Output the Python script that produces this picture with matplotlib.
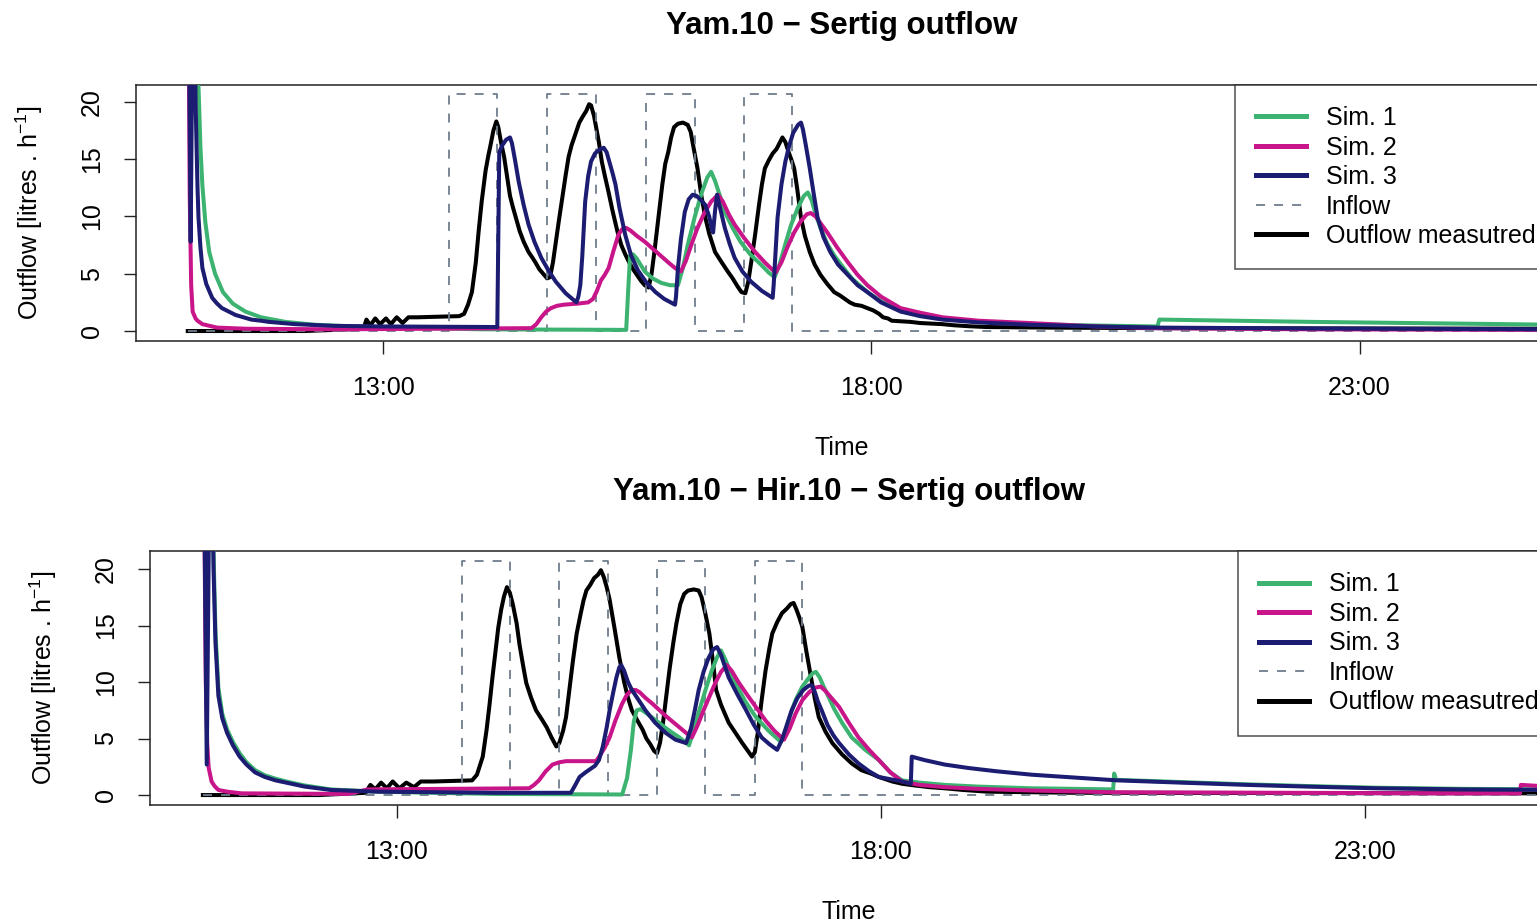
import numpy as np
import matplotlib.pyplot as plt

plt.rcParams['font.family'] = ['Liberation Sans', 'DejaVu Sans']
plt.rcParams['mathtext.default'] = 'regular'

# ---- data (time in decimal hours, outflow in litres/h) ----
titles = ["Yam.10 \u2212 Sertig outflow", "Yam.10 \u2212 Hir.10 \u2212 Sertig outflow"]
series_labels = ["Sim. 1", "Sim. 2", "Sim. 3", "Inflow", "Outflow measutred"]
series_colors = ["#3cb371", "#c8158a", "#1c1c72", "#6f7d8c", "#000000"]
tick_hours = [13, 18, 23]
tick_labels = ["13:00", "18:00", "23:00"]

# inflow pulses (same for both experiments)
pulse_start = [13.68, 14.68, 15.69, 16.70]
pulse_end = [14.17, 15.18, 16.19, 17.19]
pulse_height = 20.7

# panel 1 : Yam.10 - Sertig
meas1_t = [11.00, 12.20, 12.80, 12.83, 12.87, 12.92, 12.97, 13.03, 13.08, 13.14, 13.20, 13.26, 13.35, 13.78,
           13.83, 13.87, 13.91, 13.95, 13.98, 14.01, 14.05, 14.08, 14.10, 14.13, 14.16, 14.18, 14.21, 14.24,
           14.27, 14.30, 14.33, 14.36, 14.40, 14.44, 14.49, 14.53, 14.56, 14.60, 14.64, 14.68, 14.71, 14.74,
           14.77, 14.80, 14.83, 14.87, 14.90, 14.93, 14.97, 15.01, 15.05, 15.08, 15.11, 15.13, 15.16, 15.18,
           15.21, 15.24, 15.27, 15.31, 15.35, 15.40, 15.44, 15.48, 15.52, 15.56, 15.60, 15.64, 15.68, 15.72,
           15.75, 15.78, 15.82, 15.86, 15.89, 15.92, 15.95, 15.98, 16.02, 16.07, 16.12, 16.15, 16.18, 16.22,
           16.26, 16.30, 16.34, 16.40, 16.46, 16.53, 16.58, 16.63, 16.67, 16.71, 16.74, 16.77, 16.81, 16.85,
           16.88, 16.91, 16.95, 16.99, 17.03, 17.06, 17.09, 17.12, 17.15, 17.18, 17.21, 17.24, 17.28, 17.32,
           17.37, 17.42, 17.48, 17.55, 17.62, 17.68, 17.73, 17.78, 17.83, 17.90, 17.96, 18.02, 18.08, 18.12,
           18.17, 18.21, 18.30, 18.40, 18.50, 18.62, 18.73, 18.85, 19.00, 19.18, 19.50, 19.80, 21.00, 25.00]
meas1_v = [0.0, 0.0, 0.2, 1.0, 0.5, 1.1, 0.6, 1.1, 0.6, 1.2, 0.7, 1.2, 1.2, 1.3,
           1.5, 2.3, 3.4, 6.0, 8.8, 11.3, 14.0, 15.4, 16.2, 17.5, 18.3, 17.8, 16.4, 15.2,
           13.5, 11.8, 10.8, 9.9, 8.7, 7.8, 6.9, 6.4, 6.0, 5.4, 5.0, 4.6, 4.7, 6.0,
           7.8, 9.6, 11.3, 13.6, 15.2, 16.2, 17.2, 18.2, 18.8, 19.2, 19.8, 19.7, 18.8, 17.9,
           16.5, 14.8, 13.6, 12.1, 10.5, 8.7, 7.5, 6.7, 6.0, 5.4, 4.9, 4.4, 4.0, 3.8,
           5.0, 7.0, 9.9, 12.8, 14.6, 15.6, 16.9, 17.8, 18.1, 18.2, 18.0, 17.4, 16.0, 14.2,
           11.8, 9.9, 8.5, 6.9, 6.1, 5.2, 4.6, 3.9, 3.4, 3.3, 4.3, 6.0, 8.4, 11.0,
           12.8, 14.2, 14.9, 15.5, 15.9, 16.4, 16.9, 16.5, 15.7, 15.0, 14.2, 12.5, 9.9, 8.3,
           6.9, 5.8, 4.9, 4.1, 3.4, 3.1, 2.8, 2.5, 2.3, 2.2, 2.0, 1.8, 1.5, 1.2,
           1.1, 0.9, 0.85, 0.8, 0.7, 0.65, 0.6, 0.5, 0.42, 0.35, 0.32, 0.3, 0.25, 0.2]

sim1a_t = [11.00, 11.10, 11.13, 11.15, 11.18, 11.22, 11.28, 11.36, 11.46, 11.59, 11.75, 12.00, 12.30, 12.70,
           13.20, 14.00, 15.49, 15.51, 15.53, 15.56, 15.60, 15.68, 15.76, 15.85, 15.94, 16.02, 16.07, 16.12,
           16.19, 16.26, 16.32, 16.36, 16.40, 16.45, 16.50, 16.58, 16.66, 16.76, 16.87, 16.95, 17.01, 17.06,
           17.12, 17.18, 17.25, 17.31, 17.35, 17.39, 17.43, 17.48, 17.55, 17.62, 17.69, 17.80, 17.96, 18.10,
           18.30, 18.50, 18.73, 19.10, 19.62, 20.30, 20.93, 20.95, 22.50, 25.00]
sim1a_v = [40.0, 24.0, 16.0, 12.7, 9.5, 6.9, 5.0, 3.4, 2.4, 1.7, 1.2, 0.8, 0.55, 0.4,
           0.3, 0.15, 0.1, 3.5, 6.6, 6.7, 6.3, 5.2, 4.6, 4.2, 4.0, 4.0, 5.5, 7.5,
           9.9, 12.0, 13.4, 13.9, 13.1, 11.8, 10.4, 9.0, 7.8, 6.7, 5.8, 5.1, 4.7, 5.8,
           7.6, 9.3, 10.8, 11.8, 12.1, 11.4, 10.2, 9.0, 7.6, 6.6, 5.8, 4.6, 3.4, 2.6,
           1.85, 1.45, 1.1, 0.8, 0.6, 0.48, 0.4, 1.0, 0.8, 0.55]

sim2a_t = [11.00, 11.02, 11.035, 11.05, 11.08, 11.10, 11.15, 11.30, 11.60, 12.50, 14.52, 14.57, 14.62, 14.67,
           14.72, 14.78, 14.85, 15.00, 15.10, 15.15, 15.19, 15.23, 15.27, 15.31, 15.36, 15.41, 15.45, 15.49,
           15.53, 15.60, 15.68, 15.80, 15.92, 15.99, 16.05, 16.10, 16.16, 16.22, 16.29, 16.36, 16.43, 16.48,
           16.54, 16.60, 16.70, 16.81, 16.92, 17.02, 17.08, 17.14, 17.21, 17.28, 17.34, 17.38, 17.43, 17.49,
           17.55, 17.65, 17.76, 17.86, 17.96, 18.10, 18.30, 18.50, 18.73, 19.10, 19.62, 20.30, 20.94, 22.50,
           25.00]
sim2a_v = [40.0, 12.0, 4.0, 1.7, 1.1, 0.9, 0.6, 0.3, 0.2, 0.15, 0.25, 0.6, 1.2, 1.7,
           2.0, 2.2, 2.3, 2.4, 2.5, 2.8, 3.5, 4.4, 4.9, 5.5, 7.0, 8.4, 8.9, 9.0,
           8.8, 8.3, 7.8, 6.9, 6.0, 5.5, 5.2, 6.1, 7.6, 9.0, 10.3, 11.3, 11.9, 11.3,
           10.2, 9.3, 8.1, 6.9, 5.9, 5.1, 6.0, 7.3, 8.6, 9.6, 10.2, 10.3, 10.0, 9.3,
           8.6, 7.3, 6.0, 4.9, 4.0, 3.0, 2.0, 1.6, 1.2, 0.9, 0.7, 0.4, 0.25, 0.15,
           0.1]

sim3a_t = [11.00, 11.03, 11.06, 11.08, 11.10, 11.11, 11.13, 11.15, 11.19, 11.25, 11.30, 11.35, 11.42, 11.49,
           11.57, 11.65, 11.75, 11.83, 12.10, 12.50, 13.00, 14.17, 14.19, 14.22, 14.26, 14.30, 14.32, 14.35,
           14.39, 14.44, 14.49, 14.55, 14.62, 14.70, 14.77, 14.87, 14.98, 15.00, 15.02, 15.04, 15.07, 15.10,
           15.13, 15.17, 15.21, 15.26, 15.29, 15.32, 15.35, 15.38, 15.42, 15.48, 15.54, 15.61, 15.70, 15.79,
           15.88, 15.99, 16.00, 16.02, 16.05, 16.09, 16.13, 16.17, 16.21, 16.26, 16.30, 16.34, 16.37, 16.38,
           16.40, 16.42, 16.45, 16.50, 16.55, 16.60, 16.68, 16.77, 16.88, 16.99, 17.00, 17.04, 17.08, 17.12,
           17.16, 17.20, 17.25, 17.28, 17.30, 17.33, 17.37, 17.41, 17.45, 17.51, 17.58, 17.66, 17.76, 17.86,
           17.96, 18.10, 18.30, 18.50, 18.73, 19.10, 19.62, 20.30, 20.94, 22.50, 25.00]
sim3a_v = [40.0, 7.8, 40.0, 20.0, 12.5, 9.9, 7.3, 5.5, 4.1, 2.9, 2.4, 2.0, 1.7, 1.4,
           1.2, 1.0, 0.9, 0.8, 0.6, 0.45, 0.4, 0.35, 15.6, 16.2, 16.7, 16.9, 16.4, 15.0,
           13.0, 11.0, 9.3, 7.8, 6.4, 5.2, 4.3, 3.3, 2.5, 3.0, 4.0, 6.5, 11.3, 13.5,
           14.8, 15.5, 15.8, 16.0, 15.6, 14.7, 13.8, 12.8, 10.8, 8.4, 6.6, 5.3, 4.2, 3.4,
           2.8, 2.3, 3.0, 5.5, 8.0, 10.4, 11.5, 11.9, 11.8, 11.4, 11.0, 10.0, 8.8, 8.6,
           10.5, 11.9, 10.8, 9.0, 7.6, 6.4, 5.2, 4.3, 3.5, 2.9, 4.0, 9.9, 12.8, 14.8,
           16.2, 17.3, 18.0, 18.2, 17.6, 16.2, 14.2, 12.0, 9.9, 8.2, 6.9, 5.8, 4.9, 4.0,
           3.4, 2.5, 1.7, 1.3, 1.0, 0.75, 0.55, 0.4, 0.3, 0.22, 0.15]

# panel 2 : Yam.10 - Hir.10 - Sertig
meas2_t = [11.00, 12.20, 12.68, 12.73, 12.78, 12.84, 12.90, 12.96, 13.03, 13.10, 13.18, 13.25, 13.38, 13.78,
           13.83, 13.89, 13.93, 13.96, 13.99, 14.02, 14.05, 14.08, 14.11, 14.14, 14.17, 14.20, 14.24, 14.27,
           14.31, 14.34, 14.39, 14.44, 14.50, 14.55, 14.60, 14.65, 14.68, 14.72, 14.75, 14.78, 14.82, 14.86,
           14.90, 14.93, 14.96, 15.00, 15.04, 15.08, 15.11, 15.14, 15.17, 15.20, 15.25, 15.30, 15.35, 15.39,
           15.43, 15.48, 15.54, 15.58, 15.62, 15.66, 15.69, 15.72, 15.75, 15.78, 15.82, 15.86, 15.89, 15.93,
           15.97, 16.01, 16.07, 16.12, 16.15, 16.19, 16.23, 16.27, 16.30, 16.35, 16.43, 16.50, 16.57, 16.62,
           16.67, 16.70, 16.73, 16.77, 16.81, 16.85, 16.88, 16.93, 16.98, 17.03, 17.07, 17.10, 17.13, 17.16,
           17.19, 17.23, 17.28, 17.32, 17.36, 17.43, 17.50, 17.60, 17.70, 17.80, 17.90, 17.98, 18.05, 18.12,
           18.22, 18.35, 18.50, 18.66, 18.85, 19.10, 20.00, 25.00]
meas2_v = [0.0, 0.0, 0.2, 0.9, 0.5, 1.1, 0.6, 1.2, 0.6, 1.1, 0.7, 1.2, 1.2, 1.3,
           1.8, 3.4, 5.8, 8.0, 10.4, 12.6, 14.8, 16.4, 17.6, 18.4, 17.9, 16.9, 15.2, 13.3,
           11.3, 9.9, 8.6, 7.5, 6.7, 6.0, 5.1, 4.3, 4.6, 5.7, 6.9, 9.0, 11.8, 14.3,
           16.0, 17.2, 18.1, 18.6, 19.2, 19.5, 19.9, 19.3, 18.4, 17.3, 14.8, 12.2, 10.0, 8.6,
           7.5, 6.7, 5.8, 5.0, 4.5, 3.9, 3.7, 4.6, 6.3, 8.4, 11.2, 13.6, 15.2, 16.9,
           17.8, 18.1, 18.2, 18.1, 17.5, 16.0, 14.3, 11.6, 9.3, 8.0, 6.4, 5.5, 4.6, 4.0,
           3.4, 3.8, 5.5, 8.4, 11.0, 13.0, 14.3, 15.3, 16.1, 16.5, 16.9, 17.0, 16.4, 15.7,
           14.9, 12.8, 10.4, 8.5, 6.9, 5.6, 4.6, 3.6, 2.8, 2.2, 1.9, 1.6, 1.4, 1.2,
           1.0, 0.85, 0.7, 0.6, 0.45, 0.3, 0.2, 0.15]

sim1b_t = [11.00, 11.10, 11.13, 11.16, 11.20, 11.25, 11.31, 11.38, 11.45, 11.54, 11.64, 11.75, 11.86, 12.05,
           12.32, 12.80, 14.00, 15.33, 15.38, 15.42, 15.45, 15.48, 15.52, 15.57, 15.68, 15.80, 15.92, 16.02,
           16.07, 16.13, 16.19, 16.25, 16.31, 16.35, 16.40, 16.45, 16.50, 16.60, 16.71, 16.84, 16.97, 17.02,
           17.07, 17.12, 17.19, 17.26, 17.30, 17.33, 17.37, 17.41, 17.46, 17.52, 17.60, 17.70, 17.84, 17.98,
           18.10, 18.22, 18.40, 18.66, 19.00, 19.56, 20.00, 20.40, 20.41, 20.43, 21.10, 21.78, 22.40, 23.11,
           24.00, 25.00]
sim1b_v = [40.0, 25.0, 14.5, 9.5, 7.2, 5.8, 4.7, 3.7, 2.9, 2.2, 1.75, 1.45, 1.2, 0.85,
           0.5, 0.3, 0.1, 0.05, 1.5, 4.0, 6.5, 7.5, 7.6, 7.3, 6.6, 5.8, 5.1, 4.4,
           5.8, 7.6, 9.3, 10.9, 12.2, 12.8, 11.9, 10.8, 9.9, 8.3, 6.9, 5.7, 4.7, 5.8,
           7.2, 8.4, 9.6, 10.4, 10.8, 10.9, 10.4, 9.6, 8.7, 7.6, 6.4, 5.1, 4.0, 3.1,
           2.0, 1.3, 1.1, 0.9, 0.75, 0.6, 0.55, 0.5, 1.9, 1.35, 1.15, 0.95, 0.8, 0.65,
           0.55, 0.5]

sim2b_t = [11.00, 11.03, 11.045, 11.06, 11.09, 11.12, 11.16, 11.25, 11.40, 12.50, 12.70, 14.37, 14.42, 14.47,
           14.54, 14.61, 14.68, 14.75, 15.06, 15.10, 15.15, 15.20, 15.26, 15.33, 15.38, 15.43, 15.47, 15.51,
           15.57, 15.64, 15.78, 15.92, 15.99, 16.05, 16.11, 16.17, 16.23, 16.29, 16.35, 16.41, 16.46, 16.53,
           16.61, 16.71, 16.81, 16.90, 17.00, 17.06, 17.12, 17.19, 17.26, 17.32, 17.38, 17.43, 17.50, 17.57,
           17.67, 17.77, 17.88, 17.98, 18.10, 18.22, 18.40, 18.66, 19.00, 19.56, 20.40, 23.90, 24.60, 24.61,
           25.00]
sim2b_v = [40.0, 10.0, 4.5, 2.4, 1.2, 0.8, 0.45, 0.3, 0.15, 0.1, 0.5, 0.6, 0.9, 1.3,
           2.1, 2.7, 2.9, 3.0, 3.0, 3.5, 4.2, 5.1, 6.6, 8.1, 8.9, 9.3, 9.3, 9.1,
           8.6, 8.1, 7.0, 6.0, 5.5, 5.1, 6.2, 7.5, 8.7, 9.9, 10.9, 11.5, 11.0, 10.0,
           9.0, 7.8, 6.6, 5.7, 4.9, 5.9, 7.2, 8.4, 9.1, 9.5, 9.6, 9.2, 8.5, 7.8,
           6.4, 5.1, 4.0, 3.1, 2.0, 1.2, 0.9, 0.7, 0.55, 0.4, 0.25, 0.15, 0.15, 0.9,
           0.7]

sim3b_t = [11.00, 11.04, 11.08, 11.11, 11.13, 11.16, 11.20, 11.25, 11.31, 11.38, 11.45, 11.54, 11.64, 11.75,
           11.86, 12.05, 12.32, 12.80, 14.00, 14.80, 14.84, 14.89, 14.95, 15.00, 15.05, 15.09, 15.13, 15.17,
           15.20, 15.24, 15.27, 15.30, 15.32, 15.35, 15.39, 15.43, 15.50, 15.57, 15.67, 15.78, 15.88, 15.99,
           16.04, 16.08, 16.12, 16.17, 16.22, 16.27, 16.31, 16.35, 16.39, 16.43, 16.52, 16.61, 16.69, 16.77,
           16.85, 16.93, 16.98, 17.03, 17.08, 17.14, 17.20, 17.26, 17.29, 17.32, 17.35, 17.39, 17.45, 17.51,
           17.57, 17.67, 17.77, 17.88, 17.98, 18.10, 18.22, 18.31, 18.32, 18.45, 18.66, 18.90, 19.20, 19.56,
           20.00, 20.44, 21.10, 21.78, 22.40, 23.11, 24.00, 25.00]
sim3b_v = [40.0, 2.7, 40.0, 20.0, 13.5, 8.8, 6.8, 5.5, 4.4, 3.4, 2.7, 2.0, 1.6, 1.3,
           1.1, 0.75, 0.45, 0.3, 0.2, 0.2, 0.8, 1.6, 2.0, 2.3, 2.6, 3.1, 4.3, 6.0,
           7.5, 9.2, 10.4, 11.3, 11.5, 11.0, 10.0, 9.3, 8.4, 7.5, 6.4, 5.5, 4.9, 4.6,
           5.9, 7.5, 9.3, 10.9, 12.1, 12.9, 13.1, 12.4, 11.4, 10.4, 8.9, 7.5, 6.2, 5.1,
           4.5, 4.0, 4.9, 6.2, 7.5, 8.6, 9.3, 9.7, 9.7, 9.1, 8.3, 7.5, 6.2, 5.3,
           4.6, 3.6, 2.8, 2.1, 1.6, 1.4, 1.2, 1.0, 3.4, 3.1, 2.7, 2.4, 2.1, 1.8,
           1.55, 1.3, 1.1, 0.9, 0.75, 0.6, 0.5, 0.45]


def inflow_steps(t0, t1):
    t = [t0]
    v = [0.0]
    for s, e in zip(pulse_start, pulse_end):
        t += [s, s, e, e]
        v += [0.0, pulse_height, pulse_height, 0.0]
    t.append(t1)
    v.append(0.0)
    return t, v


def draw_panel(ax, title, sims, meas, xlim, ylim):
    ax.plot(meas[0], meas[1], color=series_colors[4], lw=2.9, zorder=2)
    it, iv = inflow_steps(11.0, 25.0)
    ax.plot(it, iv, color=series_colors[3], lw=1.3, ls=(0, (5, 5)), zorder=3)
    for k, (st, sv) in enumerate(sims):
        ax.plot(st, sv, color=series_colors[k], lw=2.9, zorder=4 + k)

    ax.set_xlim(*xlim)
    ax.set_ylim(*ylim)
    ax.set_xticks(tick_hours)
    ax.set_xticklabels(tick_labels)
    ax.set_yticks([0, 5, 10, 15, 20])
    ax.tick_params(axis='both', direction='out', length=9, width=1.0, labelsize=18,
                   color='#222222')
    ax.tick_params(axis='x', pad=16)
    ax.tick_params(axis='y', pad=14)
    for lab in ax.get_yticklabels():
        lab.set_rotation(90)
        lab.set_va('center')
    for sp in ax.spines.values():
        sp.set_linewidth(1.1)
        sp.set_color('#222222')

    ax.set_title(title, fontsize=22.5, fontweight='bold', pad=37)
    ax.set_xlabel("Time", fontsize=18, labelpad=26)
    ax.set_ylabel("Outflow [litres . h$^{-1}$]", fontsize=18, labelpad=25)

    handles = [plt.Line2D([], [], color=series_colors[0], lw=3.6),
               plt.Line2D([], [], color=series_colors[1], lw=3.6),
               plt.Line2D([], [], color=series_colors[2], lw=3.6),
               plt.Line2D([], [], color=series_colors[3], lw=1.3, ls=(0, (5, 5))),
               plt.Line2D([], [], color=series_colors[4], lw=3.6)]
    leg = ax.legend(handles, series_labels, loc='upper left', bbox_to_anchor=(0.778, 1.0),
                    borderaxespad=0, fontsize=18, frameon=True, fancybox=False,
                    handlelength=2.0, handletextpad=0.8, labelspacing=0.22, borderpad=0.85)
    leg.get_frame().set_edgecolor('#222222')
    leg.get_frame().set_linewidth(1.1)


fig = plt.figure(figsize=(15.37, 9.21), dpi=100)
W, H = 1537.0, 921.0
ax1 = fig.add_axes([136 / W, 1 - 341 / H, (1548 - 136) / W, (341 - 85) / H])
ax2 = fig.add_axes([150 / W, 1 - 805 / H, (1548 - 150) / W, (805 - 551) / H])

draw_panel(ax1, titles[0],
           [(sim1a_t, sim1a_v), (sim2a_t, sim2a_v), (sim3a_t, sim3a_v)],
           (meas1_t, meas1_v), (10.47, 24.93), (-0.87, 21.48))
draw_panel(ax2, titles[1],
           [(sim1b_t, sim1b_v), (sim2b_t, sim2b_v), (sim3b_t, sim3b_v)],
           (meas2_t, meas2_v), (10.454, 24.89), (-0.88, 21.6))

fig.savefig("out.png", dpi=100)
